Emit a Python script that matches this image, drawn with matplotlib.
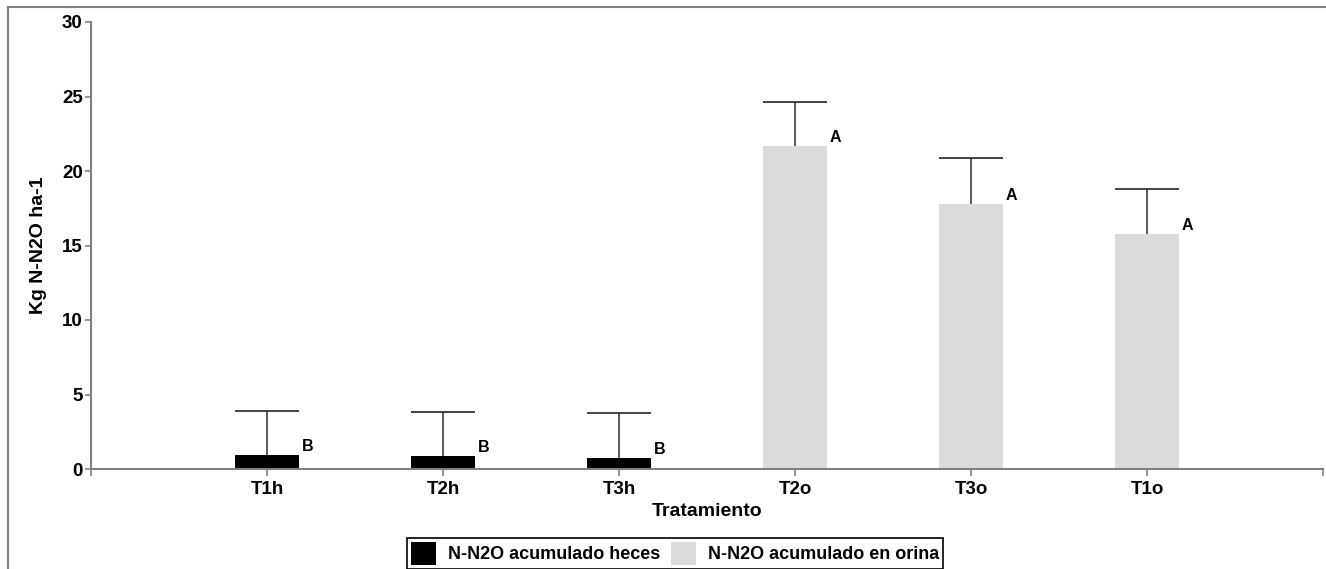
import matplotlib
matplotlib.use("Agg")
import matplotlib.pyplot as plt
from matplotlib.patches import Rectangle
from matplotlib.ticker import FixedLocator

plt.rcParams['font.family'] = ['Liberation Sans', 'DejaVu Sans']
plt.rcParams['font.weight'] = 'bold'

# Treatments and accumulated N-N2O (kg ha-1)
feces_labels = ["T1h", "T2h", "T3h"]
feces_values = [0.92, 0.85, 0.72]
feces_err = [3.0, 3.0, 3.02]
feces_groups = ["B", "B", "B"]

urine_labels = ["T2o", "T3o", "T1o"]
urine_values = [21.67, 17.81, 15.75]
urine_err = [2.99, 3.07, 3.03]
urine_groups = ["A", "A", "A"]

W, H = 1326, 569
fig = plt.figure(figsize=(W / 100, H / 100), dpi=100)

# outer chart frame
fig.patches.append(Rectangle((8 / W, -0.1), 1.2, 1 - 7 / H + 0.1,
                             transform=fig.transFigure, fill=False,
                             edgecolor="#808080", linewidth=1.5))

ax = fig.add_axes([91 / W, 1 - 469 / H, (1323 - 91) / W, (469 - 22) / H])

bar_w = 0.36
xf = [1, 2, 3]
xu = [4, 5, 6]

ax.bar(xf, feces_values, width=bar_w, color="black",
       label="N-N2O acumulado heces", zorder=2)
ax.bar(xu, urine_values, width=bar_w, color="#dcdcdc",
       label="N-N2O acumulado en orina", zorder=2)

def upper_errors(xs, vals, errs):
    for x, v, e in zip(xs, vals, errs):
        ax.plot([x, x], [v, v + e], color="#404040", lw=1.2, zorder=3,
                solid_capstyle="butt")
        ax.plot([x - bar_w / 2, x + bar_w / 2], [v + e, v + e],
                color="#222222", lw=1.2, zorder=3, solid_capstyle="butt")

upper_errors(xf, feces_values, feces_err)
upper_errors(xu, urine_values, urine_err)

for xs, vals, groups in ((xf, feces_values, feces_groups),
                         (xu, urine_values, urine_groups)):
    for x, v, g in zip(xs, vals, groups):
        ax.text(x + bar_w / 2 + 0.018, v + 0.27, g, ha="left", va="baseline",
                fontsize=11.5, fontweight="bold")

ax.set_xlim(0, 7)
ax.set_ylim(0, 30)
ax.set_yticks([0, 5, 10, 15, 20, 25, 30])
ax.set_xticks(xf + xu)
ax.set_xticklabels(feces_labels + urine_labels)
ax.xaxis.set_minor_locator(FixedLocator([0, 7]))

for s in ("top", "right"):
    ax.spines[s].set_visible(False)
for s in ("left", "bottom"):
    ax.spines[s].set_color("#808080")
    ax.spines[s].set_linewidth(1.5)

ax.tick_params(axis="both", which="both", colors="#808080", width=1.2,
               labelcolor="black", labelsize=13.5)
ax.tick_params(axis="y", length=4, pad=2)
ax.tick_params(axis="x", which="both", length=5, pad=4)
for lab in ax.get_xticklabels() + ax.get_yticklabels():
    lab.set_fontweight("bold")

ax.set_xlabel("Tratamiento", fontsize=14, fontweight="bold", labelpad=3)
ax.set_ylabel("Kg N-N2O ha-1", fontsize=14, fontweight="bold", labelpad=11)

leg = fig.legend(loc="upper left", bbox_to_anchor=(407 / W, 1 - 538 / H),
                 ncol=2, frameon=True, fancybox=False, framealpha=1,
                 edgecolor="black", fontsize=13, borderpad=0.22,
                 handlelength=1.4, handleheight=1.55, handletextpad=0.65,
                 columnspacing=0.6, borderaxespad=0)
leg.get_frame().set_linewidth(1.2)
for t in leg.get_texts():
    t.set_fontweight("bold")

fig.savefig("out.png", dpi=100)
